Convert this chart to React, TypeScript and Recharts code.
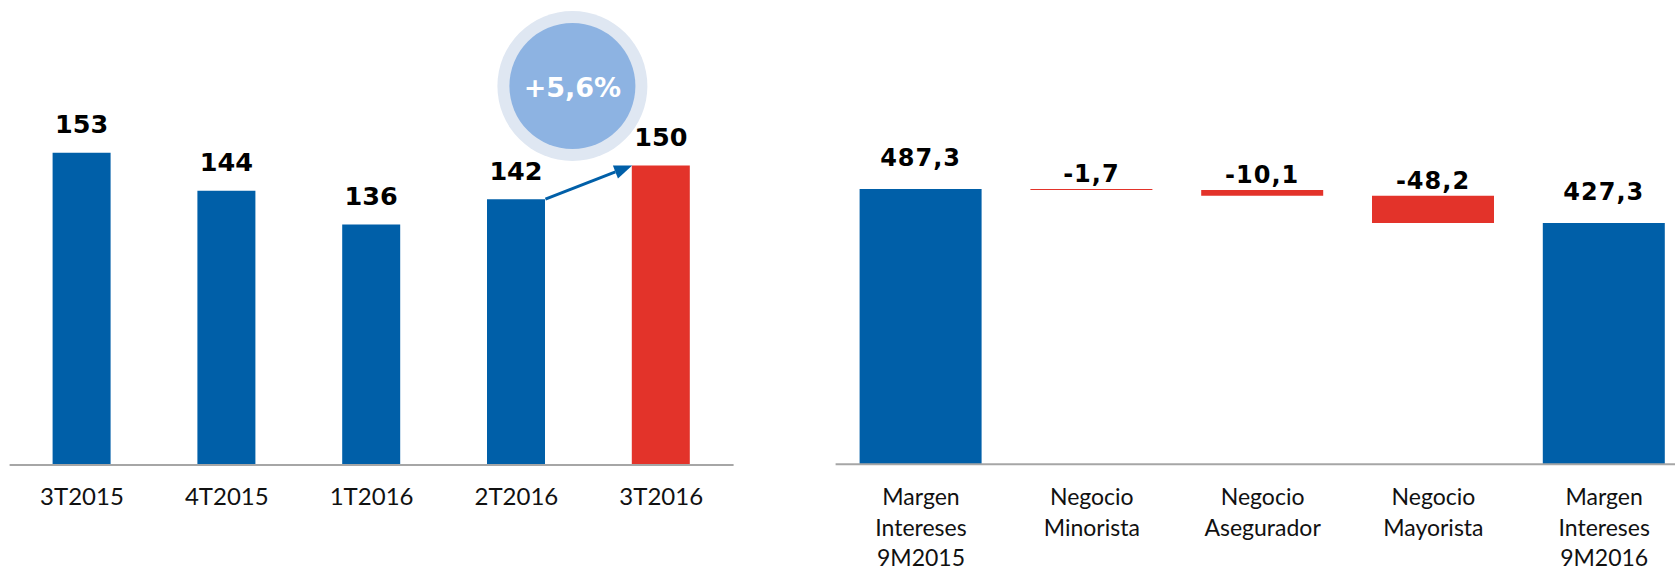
import { BarChart, Bar, XAxis, YAxis, Cell, LabelList, ReferenceLine, ReferenceDot } from "recharts"

const quarters = ["3T2015", "4T2015", "1T2016", "2T2016", "3T2016"]
const quarterValues = [153, 144, 136, 142, 150]
const growthLabel = "+5,6%"

const waterfallCategories = [
  "Margen\nIntereses\n9M2015",
  "Negocio\nMinorista",
  "Negocio\nAsegurador",
  "Negocio\nMayorista",
  "Margen\nIntereses\n9M2016",
]
const waterfallValues = [487.3, -1.7, -10.1, -48.2, 427.3]
const waterfallIsTotal = [true, false, false, false, true]

const BLUE = "#005fa8"
const RED = "#e3332a"
const AXIS = "#a6a6a6"
const VALUE_FONT = "'DejaVu Sans', sans-serif"
const TICK_FONT = "Lato, 'Liberation Sans', sans-serif"

const fmt = (v: number) => (Number.isInteger(v) ? String(v) : v.toFixed(1).replace(".", ","))

const quarterData = quarters.map((q, i) => ({ quarter: q, value: quarterValues[i] }))

let running = 0
const waterfallData = waterfallCategories.map((name, i) => {
  const v = waterfallValues[i]
  if (waterfallIsTotal[i]) {
    running = v
    return { name, base: 0, bar: v, label: fmt(v), total: true }
  }
  const after = running + v
  const row = { name, base: Math.min(running, after), bar: Math.abs(v), label: fmt(v), total: false }
  running = after
  return row
})

function QuarterTick({ x, y, payload }: any) {
  return (
    <text x={x} y={y + 40} textAnchor="middle" fontFamily={TICK_FONT} fontSize={24} fill="#111">
      {payload.value}
    </text>
  )
}

function WaterfallTick({ x, y, payload }: any) {
  const lines = String(payload.value).split("\n")
  return (
    <text x={x} y={y + 41} textAnchor="middle" fontFamily={TICK_FONT} fontSize={23} fill="#111">
      {lines.map((l, i) => (
        <tspan key={i} x={x} dy={i === 0 ? 0 : 30.5}>
          {l}
        </tspan>
      ))}
    </text>
  )
}

function QuarterLabel({ x, y, width, value }: any) {
  return (
    <text x={x + width / 2} y={y - 19.5} textAnchor="middle" fontFamily={VALUE_FONT} fontWeight="bold" fontSize={25.5} fill="#000">
      {value}
    </text>
  )
}

function WaterfallLabel({ x, y, width, value, index }: any) {
  const gap = waterfallData[index]?.total ? 23 : 7
  return (
    <text x={x + width / 2} y={y - gap} textAnchor="middle" fontFamily={VALUE_FONT} fontWeight="bold" fontSize={24} letterSpacing={1} fill="#000">
      {value}
    </text>
  )
}

// arrow from the top right corner of one bar to the top left corner of the next
function GrowthArrow({ x1, y1, x2, y2 }: any) {
  const half = 29
  const sx = x1 + half
  const ex = x2 - half
  const dx = ex - sx
  const dy = y2 - y1
  const len = Math.sqrt(dx * dx + dy * dy)
  const ux = dx / len
  const uy = dy / len
  const head = 18
  const hw = 7
  const bx = ex - ux * head
  const by = y2 - uy * head
  return (
    <g>
      <line x1={sx} y1={y1} x2={bx} y2={by} stroke={BLUE} strokeWidth={3} />
      <polygon
        points={`${ex},${y2} ${bx - uy * hw},${by + ux * hw} ${bx + uy * hw},${by - ux * hw}`}
        fill={BLUE}
      />
    </g>
  )
}

function GrowthBubble({ cx, cy }: any) {
  const x = cx + 56
  return (
    <g>
      <circle cx={x} cy={cy} r={75} fill="#dfe7f2" />
      <circle cx={x} cy={cy} r={63} fill="#8db3e2" />
      <text x={x} y={cy + 11} textAnchor="middle" fontFamily={VALUE_FONT} fontWeight="bold" fontSize={27} fill="#fff">
        {growthLabel}
      </text>
    </g>
  )
}

export default function App() {
  const last = quarterData.length - 1
  return (
    <div style={{ position: "fixed", left: 0, top: 0, width: 1675, height: 568, overflow: "hidden", background: "#fff" }}>
      <div style={{ position: "absolute", left: 0, top: 0 }}>
        <BarChart width={745} height={568} data={quarterData} margin={{ top: 38.8, right: 11.4, bottom: 13, left: 9.6 }}>
          <XAxis
            dataKey="quarter"
            interval={0}
            height={90}
            tickLine={false}
            tickSize={0}
            tickMargin={0}
            axisLine={{ stroke: AXIS, strokeWidth: 2 }}
            tick={<QuarterTick />}
          />
          <YAxis hide domain={[79, 180]} />
          <Bar dataKey="value" barSize={58} isAnimationActive={false}>
            {quarterData.map((_, i) => (
              <Cell key={i} fill={i === last ? RED : BLUE} />
            ))}
            <LabelList dataKey="value" content={<QuarterLabel />} />
          </Bar>
          <ReferenceLine
            segment={[
              { x: quarters[last - 1], y: quarterValues[last - 1] },
              { x: quarters[last], y: quarterValues[last] },
            ]}
            ifOverflow="visible"
            shape={(p: any) => <GrowthArrow {...p} />}
          />
          <ReferenceDot x={quarters[last - 1]} y={168.8} r={75} ifOverflow="visible" shape={(p: any) => <GrowthBubble {...p} />} />
        </BarChart>
      </div>
      <div style={{ position: "absolute", left: 800, top: 0 }}>
        <BarChart width={900} height={568} data={waterfallData} margin={{ top: 68.8, right: 10.4, bottom: 13.7, left: 35.6 }}>
          <XAxis
            dataKey="name"
            interval={0}
            height={90}
            tickLine={false}
            tickSize={0}
            tickMargin={0}
            axisLine={{ stroke: AXIS, strokeWidth: 2 }}
            tick={<WaterfallTick />}
          />
          <YAxis hide domain={[0, 700]} />
          <Bar dataKey="base" stackId="w" barSize={122} fill="#fff" fillOpacity={0} isAnimationActive={false} />
          <Bar dataKey="bar" stackId="w" barSize={122} isAnimationActive={false}>
            {waterfallData.map((d, i) => (
              <Cell key={i} fill={d.total ? BLUE : RED} />
            ))}
            <LabelList dataKey="label" content={<WaterfallLabel />} />
          </Bar>
        </BarChart>
      </div>
    </div>
  )
}
